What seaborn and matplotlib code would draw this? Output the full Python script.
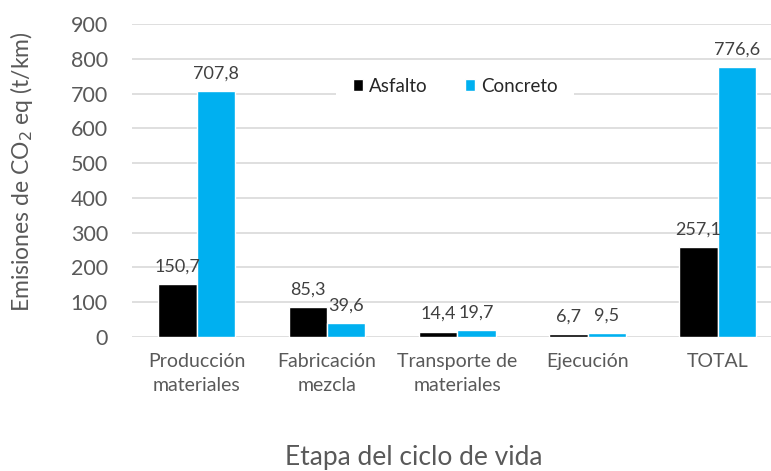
import pandas as pd
import matplotlib.pyplot as plt
import seaborn as sns

# data
etapas = ["Producción\nmateriales", "Fabricación\nmezcla", "Transporte de\nmateriales", "Ejecución", "TOTAL"]
asfalto = [150.7, 85.3, 14.4, 6.7, 257.1]
concreto = [707.8, 39.6, 19.7, 9.5, 776.6]
series = ["Asfalto", "Concreto"]
colores = ["#000000", "#00B0F0"]

df = pd.DataFrame({
    "etapa": etapas * 2,
    "serie": [series[0]] * len(etapas) + [series[1]] * len(etapas),
    "valor": asfalto + concreto,
})

sns.set_theme(style="white")
plt.rcParams["font.family"] = ["Lato", "DejaVu Sans"]

fig = plt.figure(figsize=(7.71, 4.71), dpi=100)
ax = fig.add_axes([131.5 / 771, 1 - 336.7 / 471, 1 - 131.5 / 771, (336.7 - 24.3) / 471])

sns.barplot(data=df, x="etapa", y="valor", hue="serie", palette=colores,
            width=0.59, saturation=1, ax=ax, zorder=3)

ax.set_ylim(0, 900)
ax.set_xlim(-0.5, 4.5 - 12 / 130.3)
ax.set_yticks(range(0, 901, 100))
ax.yaxis.grid(True, color="#D9D9D9", linewidth=1.2, zorder=0)
ax.set_axisbelow(True)
for s in ax.spines.values():
    s.set_visible(False)
ax.tick_params(axis="both", length=0)
ax.tick_params(axis="y", labelsize=15.5, labelcolor="#595959", pad=17)
ax.tick_params(axis="x", labelsize=14, labelcolor="#595959", pad=12)
for t in ax.get_xticklabels():
    t.set_linespacing(1.45)
ax.set_xlabel("")
ax.set_ylabel("")

for cont in ax.containers:
    labs = [f"{b.get_height():.1f}".replace(".", ",") for b in cont]
    ax.bar_label(cont, labels=labs, padding=7, fontsize=13, color="#404040")

# legend in a white box over the gridlines
leg = ax.legend(loc="center", bbox_to_anchor=(455 / 771, 1 - 86 / 471),
                bbox_transform=fig.transFigure, ncol=2, frameon=True,
                facecolor="white", edgecolor="none", framealpha=1,
                fontsize=13.5, handlelength=0.55, handleheight=0.55,
                handletextpad=0.3, columnspacing=2.0, borderpad=0.9)
for t in leg.get_texts():
    t.set_color("#262626")

fig.text(414 / 771, 1 - 457 / 471, "Etapa del ciclo de vida", ha="center", va="center",
         fontsize=19, color="#595959")
fig.text(22 / 771, 1 - 172 / 471, "Emisiones de CO$_2$ eq (t/km)", ha="center", va="center",
         rotation=90, fontsize=16.5, color="#595959")

fig.savefig("out.png", dpi=100)
